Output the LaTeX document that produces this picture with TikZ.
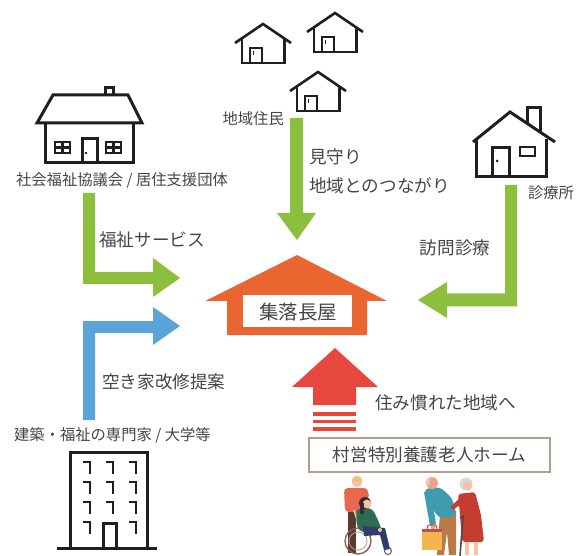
\documentclass[tikz,border=0pt]{standalone}
\usepackage{fontspec}
\setmainfont{Noto Sans CJK JP}
\definecolor{txt}{HTML}{454545}
\definecolor{ggreen}{HTML}{8CBF3E}
\definecolor{bblue}{HTML}{5AA5D8}
\definecolor{oorange}{HTML}{EA6630}
\definecolor{rred}{HTML}{E8473D}
\definecolor{boxline}{HTML}{B49D8C}
\definecolor{skin}{HTML}{F4C3A3}
\definecolor{skindark}{HTML}{EFA488}
\definecolor{blond}{HTML}{F2C27A}
\definecolor{shirtor}{HTML}{E8674F}
\definecolor{darkbrown}{HTML}{5A3A30}
\definecolor{sweater}{HTML}{2F6B4F}
\definecolor{jeans}{HTML}{2F3D6B}
\definecolor{darkhair}{HTML}{3B2B30}
\definecolor{wheel}{HTML}{8A5A4A}
\definecolor{frame}{HTML}{E6C79A}
\definecolor{teal}{HTML}{3F9BB0}
\definecolor{pants}{HTML}{B97A48}
\definecolor{bag}{HTML}{F3B54D}
\definecolor{bagtop}{HTML}{C0504D}
\definecolor{dress}{HTML}{C43D2F}
\definecolor{whitehair}{HTML}{DADADA}
\tikzset{
  lbl/.style={text=txt, inner sep=0pt, font=\fontsize{15.3}{17}\selectfont},
  biglbl/.style={text=txt, inner sep=0pt, font=\fontsize{17.6}{20}\selectfont},
  icon/.style={draw=black!88, line width=3pt, line join=miter},
  thinicon/.style={draw=black!88, line width=2.6pt, line join=miter},
  smallhouse/.pic={
    \draw[thinicon] (-28,19) -- (0,0) -- (28,19);
    \draw[thinicon] (-21,14.2) -- (-21,39) -- (21.5,39) -- (21.5,14.5);
    \draw[thinicon] (-13,39) -- (-13,24) -- (-1,24) -- (-1,39);
    \draw[draw=black!88, line width=1.8pt] (-9.5,27) -- (-9.5,31);
  }
}
\begin{document}
\begin{tikzpicture}[x=1pt,y=-1pt]
\useasboundingbox (0,0) rectangle (576,556);

% ---- welfare council house (left) ----
\draw[icon] (105,95) -- (105,88) -- (113,88) -- (113,95);
\draw[icon] (37,123) -- (53,95) -- (128,95) -- (142,123) -- cycle;
\draw[icon] (45,123) -- (45,163) -- (133,163) -- (133,123);
\draw[icon] (82,163) -- (82,139) -- (97,139) -- (97,163);
\fill[black!88] (86,153) circle (1.4);
\draw[draw=black!88, line width=2.5pt] (55,142) rectangle (70,153) (62.5,142) -- (62.5,153) (55,147.5) -- (70,147.5);
\draw[draw=black!88, line width=2.5pt] (106,142) rectangle (121,153) (113.5,142) -- (113.5,153) (106,147.5) -- (121,147.5);
\node[lbl] (council) at (122,180) {社会福祉協議会 / 居住支援団体};

% ---- residents' houses (top) ----
\pic at (263,24) {smallhouse};
\pic at (335,13) {smallhouse};
\pic at (318,72) {smallhouse};
\node[lbl, anchor=east] (residents) at (284,119) {地域住民};

% ---- clinic (right) ----
\draw[icon] (527,123) -- (527,108) -- (540,108) -- (540,132);
\draw[icon] (473,142) -- (510,112) -- (555,142);
\draw[icon] (476,139.5) -- (476,177) -- (546,177) -- (546,139.5);
\draw[icon] (492,177) -- (492,148) -- (509,148) -- (509,177);
\fill[black!88] (497,161) circle (1.5);
\draw[draw=black!88, line width=2.5pt] (520,147) rectangle (535,156);
\node[lbl] (clinic) at (551,193) {診療所};

% ---- experts' building (bottom left) ----
\draw[icon] (70,548) -- (70,452) -- (147,452) -- (147,548);
\draw[icon] (57,548) -- (157,548);
\foreach \yy in {462,482,502,522}{
  \foreach \xx in {83,106,129}{
    \ifnum\yy=522 \ifnum\xx=106 \else
      \draw[draw=black!88, line width=2.6pt] (\xx,\yy) -- (\xx+7,\yy) -- (\xx+7,\yy+12);
    \fi\else
      \draw[draw=black!88, line width=2.6pt] (\xx,\yy) -- (\xx+7,\yy) -- (\xx+7,\yy+12);
    \fi
  }
}
\draw[icon] (103,548) -- (103,523) -- (116,523) -- (116,548);
\node[lbl, anchor=west] (experts) at (14,435) {建築・福祉の専門家 / 大学等};

% ---- central hub ----
\fill[oorange] (297,255) -- (387,301) -- (367,301) -- (367,335) -- (227,335) -- (227,301) -- (205,301) -- cycle;
\fill[white] (243,295) rectangle (352,327);
\node[text=txt, inner sep=0pt, font=\fontsize{19.5}{22}\selectfont] (hub) at (298,312) {集落長屋};

% ---- arrows ----
\fill[ggreen] (83,193) -- (95,193) -- (95,272) -- (153,272) -- (153,258) -- (180,278) -- (153,297) -- (153,284) -- (83,284) -- cycle;
\node[biglbl, anchor=west] (service) at (99,240) {福祉サービス};

\fill[ggreen] (290,118) -- (303,118) -- (303,213) -- (316,213) -- (297,240) -- (277,213) -- (290,213) -- cycle;
\node[biglbl, anchor=west] (watch) at (309,157) {見守り};
\node[biglbl, anchor=west] (ties) at (309,186) {地域とのつながり};

\fill[ggreen] (505,185) -- (517,185) -- (517,306.5) -- (447,306.5) -- (447,318) -- (418,300) -- (447,282) -- (447,293.5) -- (505,293.5) -- cycle;
\node[biglbl] (visit) at (455,248) {訪問診療};

\fill[bblue] (83,420) -- (83,321) -- (153,321) -- (153,307) -- (180,326) -- (153,345) -- (153,333) -- (95,333) -- (95,420) -- cycle;
\node[biglbl, anchor=west] (renovate) at (102,382) {空き家改修提案};

\fill[rred] (335,348) -- (378,387) -- (356,387) -- (356,405) -- (313,405) -- (313,387) -- (292,387) -- cycle;
\fill[rred] (313,412) rectangle (356,415.5);
\fill[rred] (313,419.5) rectangle (356,423);
\fill[rred] (313,427) rectangle (356,430.5);
\node[biglbl, anchor=west] (home) at (375,403) {住み慣れた地域へ};

% ---- nursing home ----
\node[draw=boxline, line width=1.3pt, minimum width=241pt, minimum height=34pt, inner sep=0pt] (nursing) at (429.5,455) {};
\node[biglbl] (nursinglbl) at (nursing.center) {村営特別養護老人ホーム};

% ---- caregiver and wheelchair ----
\fill[darkbrown] (348,508) rectangle (356,553);
\fill[shirtor, rounded corners=4pt] (344,488) -- (368,488) -- (369,512) -- (345,512) -- cycle;
\fill[shirtor] (364,492) -- (369,494) -- (363,512) -- (358,511) -- cycle;
\fill[skin] (357,482) circle (5.2);
\fill[blond] (351.6,481) arc (180:360:5.4) -- cycle;
% wheelchair frame
\draw[frame, line width=1.6pt] (354,510) -- (360,530) -- (382,532) -- (388,549);
\draw[frame, line width=1.6pt] (360,530) -- (372,534);
\draw[wheel, line width=1.3pt] (358,541) circle (13);
\draw[wheel!60, line width=0.8pt] (358,541) circle (9);
\draw[wheel, line width=1.1pt] (388,551) circle (3.5);
% seated woman
\fill[sweater, rounded corners=4pt] (356,509) -- (372,508) -- (378,520) -- (382,530) -- (364,533) -- (357,528) -- cycle;
\fill[jeans] (363,526) -- (385,528) -- (390,549) -- (384,550) -- (380,535) -- (364,536) -- cycle;
\fill[darkhair] (365,503) circle (6);
\fill[skin] (367,504) circle (4.4);
\fill[darkhair] (360,503) rectangle (364,514);
\fill[skin] (380,530) circle (2);

% ---- elderly couple ----
% man
\fill[pants] (440,514) -- (456,514) -- (456,555) -- (449,555) -- (447,532) -- (444,555) -- (437,555) -- cycle;
\fill[teal, rounded corners=4pt] (424,489) -- (440,487) -- (452,498) -- (457,516) -- (439,518) -- (430,505) -- cycle;
\fill[teal] (424,492) -- (431,492) -- (436,524) -- (430,526) -- cycle;
\fill[skindark] (433,527) circle (2.5);
\fill[skindark] (432,483) circle (6);
\fill[whitehair] (426.4,484) arc (180:250:5.8) -- (428,486) -- cycle;
% bag
\fill[bag] (422,529) rectangle (442,550);
\fill[bagtop] (422,529) rectangle (442,532);
\draw[bagtop, line width=1pt] (427,529) -- (428,525) -- (436,525) -- (437,529);
% woman
\fill[whitehair] (466,484) circle (6.5);
\fill[skin] (467.5,486) circle (4.6);
\fill[dress, rounded corners=3pt] (458,494) -- (475,492) -- (481,515) -- (484,542) -- (462,542) -- (460,515) -- cycle;
\fill[dress] (460,498) -- (464,502) -- (453,510) -- (450,507) -- cycle;
\fill[skin] (465,542) rectangle (469,555);
\fill[skin] (474,542) rectangle (478,555);
\draw[black!70, line width=1.6pt] (463,517) -- (460,556);
\draw[black!70, line width=1.6pt] (460,518) -- (464,516);
\end{tikzpicture}
\end{document}
